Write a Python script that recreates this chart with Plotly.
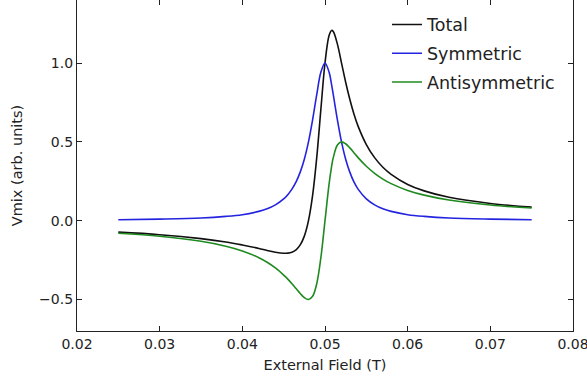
import plotly.graph_objects as go

field = [0.025, 0.030, 0.035, 0.038, 0.040, 0.042, 0.043, 0.044, 0.045, 0.0455,
         0.046, 0.0465, 0.047, 0.0475, 0.048, 0.0485, 0.049, 0.0495, 0.050, 0.0505,
         0.0508, 0.051, 0.0515, 0.052, 0.0525, 0.053, 0.0535, 0.054, 0.055, 0.056,
         0.057, 0.058, 0.060, 0.062, 0.065, 0.070, 0.075]

symmetric = [0.006, 0.010, 0.017, 0.027, 0.038, 0.059, 0.075, 0.100, 0.138, 0.165,
             0.200, 0.246, 0.308, 0.390, 0.500, 0.640, 0.800, 0.941, 1.000, 0.941,
             0.862, 0.800, 0.640, 0.500, 0.390, 0.308, 0.246, 0.200, 0.138, 0.100,
             0.075, 0.059, 0.038, 0.027, 0.017, 0.010, 0.006]

antisymmetric = [-0.080, -0.099, -0.131, -0.162, -0.192, -0.235, -0.264, -0.300, -0.345, -0.371,
                 -0.400, -0.431, -0.462, -0.488, -0.500, -0.480, -0.400, -0.235, 0.000, 0.235,
                 0.345, 0.400, 0.480, 0.500, 0.488, 0.462, 0.431, 0.400, 0.345, 0.300,
                 0.264, 0.235, 0.192, 0.162, 0.131, 0.099, 0.080]

total = [-0.073, -0.089, -0.114, -0.135, -0.154, -0.176, -0.189, -0.200, -0.207, -0.206,
         -0.200, -0.185, -0.154, -0.098, 0.000, 0.160, 0.400, 0.706, 1.000, 1.176,
         1.207, 1.200, 1.120, 1.000, 0.878, 0.770, 0.677, 0.600, 0.483, 0.400,
         0.339, 0.294, 0.230, 0.189, 0.148, 0.109, 0.086]

x_ticks = [0.02, 0.03, 0.04, 0.05, 0.06, 0.07, 0.08]
x_labels = ["0.02", "0.03", "0.04", "0.05", "0.06", "0.07", "0.08"]
y_ticks = [-0.5, 0.0, 0.5, 1.0]
y_labels = ["\u22120.5", "0.0", "0.5", "1.0"]

FONT = "DejaVu Sans"
AX = "#222222"

fig = go.Figure()
series = [("Total", total, "#111111"),
          ("Symmetric", symmetric, "#2424e0"),
          ("Antisymmetric", antisymmetric, "#1f8a1f")]
for i, (name, vals, col) in enumerate(series):
    fig.add_trace(go.Scatter(x=field, y=vals, mode="lines", name=name,
                             legendgroup=str(i),
                             line=dict(color=col, width=1.6, shape="spline", smoothing=1.0)))

fig.update_layout(
    width=587, height=383,
    margin=dict(l=77, r=14, t=0, b=52),
    paper_bgcolor="white", plot_bgcolor="white",
    font=dict(family=FONT, size=14, color="#222222"),
    showlegend=True,
    legend=dict(x=0.625, y=0.98, xanchor="left", yanchor="top",
                bgcolor="rgba(0,0,0,0)", borderwidth=0,
                font=dict(family=FONT, size=17.5, color="#222222"),
                traceorder="grouped", tracegroupgap=3),
)
fig.update_xaxes(range=[0.02, 0.08], tickvals=x_ticks, ticktext=x_labels,
                 ticklabeloverflow="allow",
                 ticks="inside", ticklen=5, tickcolor=AX, tickwidth=1,
                 showline=True, linecolor=AX, linewidth=1.3, mirror="ticks",
                 showgrid=False, zeroline=False, automargin=False,
                 title=dict(text="External Field (T)", font=dict(size=14.5), standoff=8))
fig.update_yaxes(range=[-0.7, 1.4], tickvals=y_ticks, ticktext=y_labels,
                 ticks="inside", ticklen=5, tickcolor=AX, tickwidth=1,
                 showline=True, linecolor=AX, linewidth=1.3, mirror="ticks",
                 showgrid=False, zeroline=False, automargin=False,
                 title=dict(text="Vmix (arb. units)", font=dict(size=14.5), standoff=12))

fig.write_html("out.html")
